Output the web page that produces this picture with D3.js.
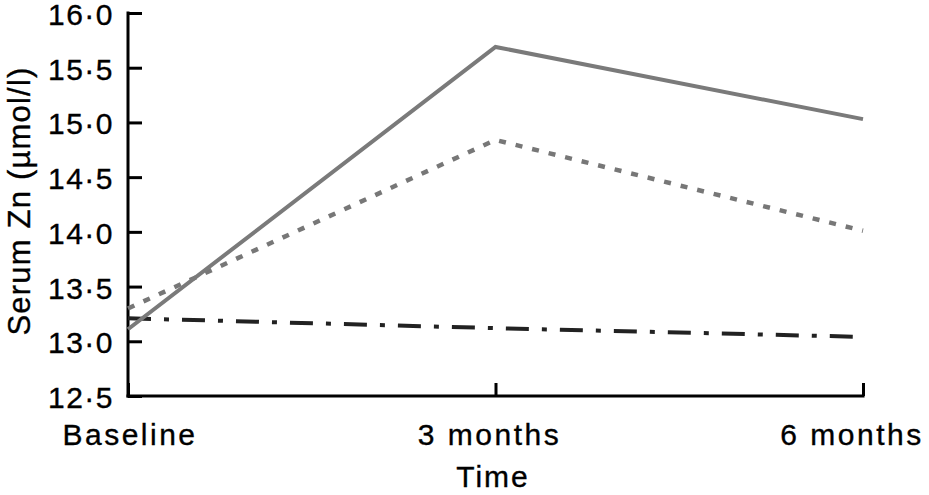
<!DOCTYPE html>
<html>
<head>
<meta charset="utf-8">
<script src="https://cdn.jsdelivr.net/npm/d3@7"></script>
<style>
  body { margin: 0; background: #fff; }
  text { font-family: "Liberation Sans", Arial, Helvetica, sans-serif; fill: #000; stroke: #000; stroke-width: 0.35px; }
</style>
</head>
<body>
<div id="chart"></div>
<script>
// values
var timepoints = ["Baseline", "3 months", "6 months"];
var solidSeries = [13.11, 15.69, 15.03];
var dottedSeries = [13.30, 14.84, 14.01];
var dashDotSeries = [13.21, 13.12, 13.04];
var yTicks = [12.5, 13.0, 13.5, 14.0, 14.5, 15.0, 15.5, 16.0];

var width = 929;
var height = 495;

var svg = d3.select("#chart")
        .append("svg")
        .attr("width", width)
        .attr("height", height);

var x = d3.scalePoint()
        .domain(timepoints)
        .range([128, 863]);

var y = d3.scaleLinear()
        .domain([12.5, 16.0])
        .range([396, 13]);

var fmt = function(d) { return d3.format(".1f")(d).replace(".", "\u00b7"); };

// y axis
var yAxis = svg.append("g")
        .attr("transform", "translate(128,0)")
        .call(d3.axisRight(y).tickValues(yTicks).tickSize(14).tickFormat(""));
yAxis.select(".domain").remove();
yAxis.selectAll(".tick line").attr("stroke", "#000").attr("stroke-width", 3);

svg.append("line")
        .attr("x1", 128).attr("x2", 128)
        .attr("y1", y(16.0) - 1.5).attr("y2", y(12.5) + 1.5)
        .attr("stroke", "#000").attr("stroke-width", 3);

svg.selectAll(".ylab")
        .data(yTicks)
        .enter()
        .append("text")
        .attr("class", "ylab")
        .attr("x", 114)
        .attr("y", d => y(d))
        .attr("dy", "0.4em")
        .attr("text-anchor", "end")
        .style("font-size", "30px")
        .style("letter-spacing", "1.5px")
        .text(fmt);

// x axis
var xAxis = svg.append("g")
        .attr("transform", "translate(0,396)")
        .call(d3.axisTop(x).tickSize(13).tickFormat(""));
xAxis.select(".domain").remove();
xAxis.selectAll(".tick line").attr("stroke", "#000").attr("stroke-width", 3);

svg.append("line")
        .attr("x1", 128 - 1.5).attr("x2", 863 + 1.5)
        .attr("y1", 396).attr("y2", 396)
        .attr("stroke", "#000").attr("stroke-width", 3);

svg.selectAll(".xlab")
        .data(timepoints)
        .enter()
        .append("text")
        .attr("class", "xlab")
        .attr("x", d => x(d))
        .attr("dx", (d, i) => [2, -6, -11][i])
        .attr("y", 445)
        .attr("text-anchor", "middle")
        .style("font-size", "30px")
        .style("letter-spacing", "2.5px")
        .text(d => d);

// axis titles
svg.append("text")
        .attr("x", 493)
        .attr("y", 487)
        .attr("text-anchor", "middle")
        .style("font-size", "30px")
        .style("letter-spacing", "2px")
        .text("Time");

svg.append("text")
        .attr("transform", "translate(30,201) rotate(-90)")
        .attr("text-anchor", "middle")
        .style("font-size", "31px")
        .style("letter-spacing", "1.2px")
        .text("Serum Zn (\u00b5mol/l)");

// lines
var line = d3.line()
        .x((d, i) => x(timepoints[i]))
        .y(d => y(d));

svg.append("path")
        .datum(dashDotSeries)
        .attr("d", line)
        .attr("fill", "none")
        .attr("stroke", "#222")
        .attr("stroke-width", 4)
        .attr("stroke-dasharray", "23,13,5,13");

svg.append("path")
        .datum(dottedSeries)
        .attr("d", line)
        .attr("fill", "none")
        .attr("stroke", "#777")
        .attr("stroke-width", 4.5)
        .attr("stroke-dasharray", "7,10");

svg.append("path")
        .datum(solidSeries)
        .attr("d", line)
        .attr("fill", "none")
        .attr("stroke", "#7a7a7a")
        .attr("stroke-width", 4);
</script>
</body>
</html>
